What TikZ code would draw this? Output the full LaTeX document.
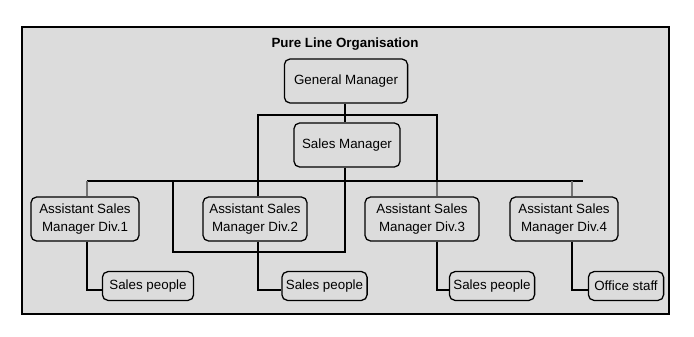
\documentclass[tikz,border=0pt]{standalone}
\usepackage{fontspec}
\setmainfont{Liberation Sans}
\usepackage{xcolor}
\usepackage{tikz}
\usetikzlibrary{positioning, calc}
\definecolor{panelGray}{RGB}{220, 220, 220}

\begin{document}
\begin{tikzpicture}[x=0.025cm, y=-0.025cm,
    box/.style={draw, rounded corners=4pt, line width=0.9pt, inner sep=0pt, align=center, font=\fontsize{9.5}{12.8}\selectfont},
    link/.style={line width=0.85pt},
    stub/.style={line width=0.85pt, draw=black!55}]
        \useasboundingbox (0,0) rectangle (694,336);
        \draw[line width=1.5pt, fill=panelGray] (22,27) rectangle (669,314);
        \node[font=\bfseries\fontsize{9.5}{12}\selectfont] (title) at (345,44) {Pure Line Organisation};

        \node[box, minimum width=3.08cm, minimum height=1.1cm] (gm) at (346,81) {General Manager};
        \node[box, minimum width=2.65cm, minimum height=1.1cm] (sm) at (347,145) {Sales Manager};
        \node[box, minimum width=2.7cm, minimum height=1.1cm] (asm1) at (85,219) {Assistant Sales\\Manager Div.1};
        \node[box, minimum width=2.6cm, minimum height=1.1cm] (asm2) at (255,219) {Assistant Sales\\Manager Div.2};
        \node[box, minimum width=2.85cm, minimum height=1.1cm] (asm3) at (422,219) {Assistant Sales\\Manager Div.3};
        \node[box, minimum width=2.7cm, minimum height=1.1cm] (asm4) at (564,219) {Assistant Sales\\Manager Div.4};
        \node[box, minimum width=2.28cm, minimum height=0.72cm] (sp1) at (148,286) {Sales people};
        \node[box, minimum width=2.13cm, minimum height=0.72cm] (sp2) at (324.5,286) {Sales people};
        \node[box, minimum width=2.13cm, minimum height=0.72cm] (sp3) at (492,286) {Sales people};
        \node[box, minimum width=1.88cm, minimum height=0.72cm] (os) at (626,286) {Office staff};

        \coordinate (ja) at (258,115);
        \coordinate (jb) at (437,115);
        \coordinate (ba) at (87,181);
        \coordinate (bb) at (583,181);
        \coordinate (bd) at (572,181);
        \coordinate (lp) at (173,252);
        \coordinate (mid) at (345,115);

        \draw[link] (mid |- gm.south) -- (mid |- sm.north);
        \draw[link] (ja |- asm2.north) -- (ja) -- (jb) -- (jb |- ba);
        \draw[stub] (jb |- ba) -- (jb |- asm3.north);
        \draw[link] (ba) -- (bb);
        \draw[stub] (ba) -- (ba |- asm1.north);
        \draw[stub] (bd) -- (bd |- asm4.north);
        \draw[link] (mid |- sm.south) |- (lp) -- (lp |- ba);

        \draw[link] (ba |- asm1.south) |- ($(sp1.west)+(0,4)$);
        \draw[link] (ja |- asm2.south) |- ($(sp2.west)+(0,4)$);
        \draw[link] (jb |- asm3.south) |- ($(sp3.west)+(0,4)$);
        \draw[link] (bd |- asm4.south) |- ($(os.west)+(0,4)$);
    \end{tikzpicture}
\end{document}
